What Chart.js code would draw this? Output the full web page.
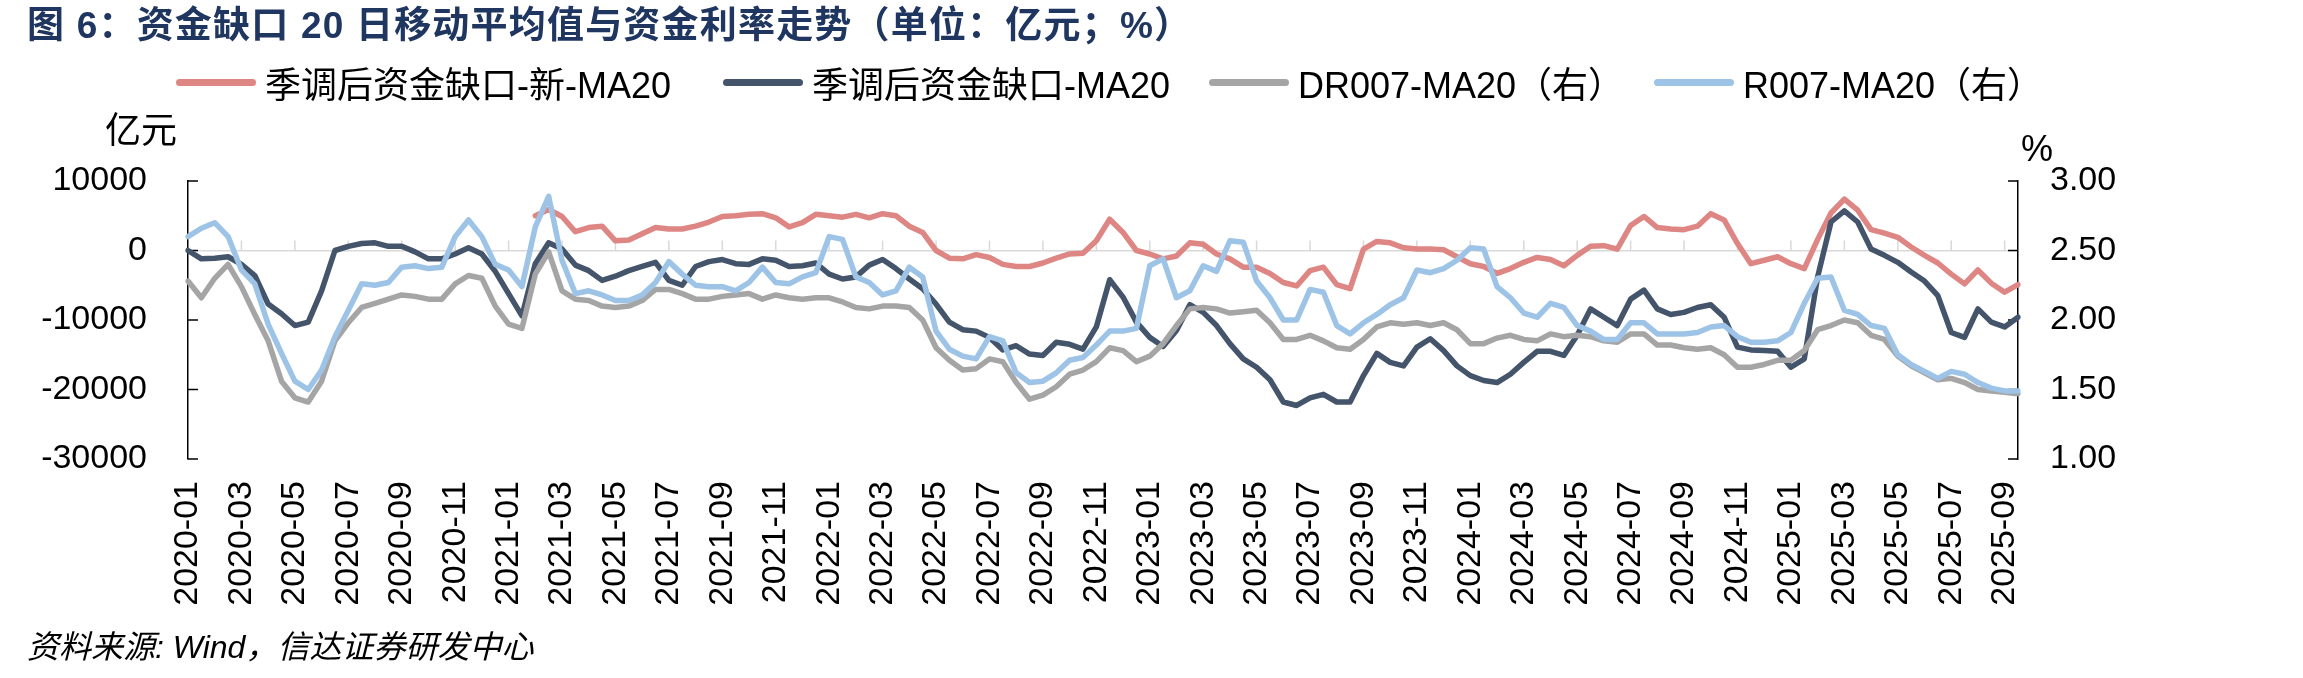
<!DOCTYPE html>
<html lang="zh-CN">
  <head>
    <meta charset="UTF-8" />
    <title>资金缺口20日移动平均值与资金利率走势</title>
    <script src="https://cdn.jsdelivr.net/npm/chart.js@4"></script>
    <style>
      * {
        margin: 0;
        padding: 0;
        box-sizing: border-box;
      }
      body {
        width: 2303px;
        height: 678px;
        position: relative;
        overflow: hidden;
        background: #ffffff;
        color: #000000;
        font-family: "Liberation Sans", Arial, "Noto Sans CJK SC", sans-serif;
      }
      #chart {
        position: absolute;
        left: 0;
        top: 0;
      }
      #title {
        position: absolute;
        left: 27px;
        top: 6px;
        font-size: 37px;
        line-height: 40px;
        font-weight: bold;
        letter-spacing: 1.2px;
        color: #1f3660;
        white-space: nowrap;
        font-family: "Liberation Sans", "Noto Sans CJK SC", sans-serif;
      }
      .legend-item {
        position: absolute;
        top: 62px;
        height: 40px;
        display: flex;
        align-items: center;
        font-size: 36px;
        white-space: nowrap;
        font-family: "Liberation Sans Narrow", "Liberation Sans", "Noto Sans CJK SC", sans-serif;
      }
      .swatch {
        display: inline-block;
        width: 80px;
        height: 7px;
        border-radius: 4px;
        margin-right: 9px;
      }
      .unit {
        position: absolute;
        font-size: 36px;
        line-height: 36px;
        font-family: "Liberation Sans", "Noto Sans CJK SC", sans-serif;
      }
      #source {
        position: absolute;
        left: 27px;
        top: 628px;
        font-size: 32px;
        line-height: 38px;
        font-style: italic;
        white-space: nowrap;
        font-family: "Liberation Sans Narrow", "Liberation Sans", "Noto Sans CJK SC", sans-serif;
      }
    </style>
  </head>
  <body>
    <canvas id="chart" width="2303" height="678"></canvas>

    <div id="title">图 6：资金缺口 20 日移动平均值与资金利率走势（单位：亿元；%）</div>
    <div id="legend"></div>
    <div class="unit" style="left: 105px; top: 113px">亿元</div>
    <div class="unit" style="left: 2021px; top: 131px">%</div>
    <div id="source">资料来源: Wind，信达证券研发中心</div>

    <script>
      // Half-month points, 2020-01 to 2025-09
      const dates = [];
      for (let yr = 2020; yr <= 2025; yr++) {
        for (let m = 1; m <= 12; m++) {
          if (yr === 2025 && m > 9) break;
          const mm = String(m).padStart(2, "0");
          dates.push(`${yr}-${mm}-01`, `${yr}-${mm}-16`);
        }
      }

      // 季调后资金缺口-新-MA20 (亿元), starts 2021-02
      const gapNew = [
        null, null, null, null, null, null, null, null, null, null,
        null, null, null, null, null, null, null, null, null, null,
        null, null, null, null, null, null, 5000, 5900, 4900, 2700,
        3300, 3500, 1400, 1500, 2400, 3300, 3100, 3100, 3500, 4100,
        4900, 5000, 5200, 5300, 4700, 3400, 4000, 5200, 5000, 4800,
        5200, 4700, 5300, 5000, 3500, 2600, 0, -1100, -1200, -600,
        -1000, -2000, -2300, -2300, -1800, -1100, -500, -400, 1400, 4500,
        2600, 0, -500, -1200, -800, 1100, 900, -500, -1200, -2400,
        -2400, -3300, -4600, -5100, -2900, -2400, -4900, -5500, 200, 1300,
        1100, 400, 200, 200, 100, -900, -1900, -2300, -3300, -2600,
        -1700, -1000, -1300, -2200, -700, 600, 700, 200, 3600, 4900,
        3300, 3100, 3000, 3500, 5300, 4400, 1000, -1900, -1400, -900,
        -1900, -2600, 1600, 5400, 7400, 5800, 3000, 2500, 1900, 500,
        -700, -1800, -3400, -4800, -2800, -4700, -6000, -4900,
      ];

      // 季调后资金缺口-MA20 (亿元)
      const gapOld = [
        0, -1200, -1100, -900, -2000, -3600, -7700, -9100, -10800, -10300,
        -5800, 0, 600, 1000, 1100, 600, 600, -200, -1200, -1200,
        -500, 400, -500, -3000, -6200, -9400, -1900, 1100, 200, -2100,
        -2900, -4300, -3700, -2900, -2300, -1700, -4300, -5000, -2300, -1600,
        -1300, -1900, -2000, -1200, -1400, -2300, -2200, -1800, -3400, -4100,
        -3800, -2100, -1300, -2600, -4100, -5500, -7700, -10300, -11400, -11600,
        -12500, -14300, -13700, -14900, -15100, -13200, -13500, -14200, -11000, -4200,
        -6700, -10300, -12500, -13800, -11500, -7800, -8900, -10800, -13400, -15600,
        -16800, -18600, -21800, -22300, -21200, -20700, -21800, -21800, -18000, -14800,
        -16100, -16600, -13900, -12700, -14400, -16600, -18000, -18700, -19000, -17800,
        -16100, -14500, -14500, -15100, -12200, -8400, -9600, -10800, -7000, -5700,
        -8400, -9200, -8900, -8200, -7800, -9600, -13900, -14300, -14400, -14500,
        -16800, -15600, -3800, 4100, 5700, 4100, 200, -700, -1700, -3100,
        -4400, -6500, -11800, -12500, -8400, -10300, -11000, -9600,
      ];

      // DR007-MA20 (%, right axis)
      const dr007 = [
        2.28, 2.16, 2.30, 2.40, 2.24, 2.04, 1.85, 1.56, 1.44, 1.41,
        1.56, 1.85, 1.98, 2.09, 2.12, 2.15, 2.18, 2.17, 2.15, 2.15,
        2.26, 2.32, 2.30, 2.10, 1.97, 1.94, 2.33, 2.49, 2.21, 2.15,
        2.14, 2.10, 2.09, 2.10, 2.14, 2.22, 2.22, 2.19, 2.15, 2.15,
        2.17, 2.18, 2.19, 2.15, 2.18, 2.16, 2.15, 2.16, 2.16, 2.13,
        2.09, 2.08, 2.10, 2.10, 2.09, 2.00, 1.80, 1.71, 1.64, 1.65,
        1.72, 1.70, 1.55, 1.43, 1.46, 1.52, 1.61, 1.64, 1.70, 1.80,
        1.78, 1.70, 1.74, 1.83, 1.96, 2.08, 2.09, 2.08, 2.05, 2.06,
        2.07, 1.98, 1.86, 1.86, 1.89, 1.85, 1.80, 1.79, 1.86, 1.95,
        1.98, 1.97, 1.98, 1.96, 1.98, 1.93, 1.83, 1.83, 1.87, 1.89,
        1.86, 1.85, 1.90, 1.88, 1.89, 1.88, 1.85, 1.84, 1.90, 1.90,
        1.82, 1.82, 1.80, 1.79, 1.80, 1.75, 1.66, 1.66, 1.68, 1.71,
        1.71, 1.78, 1.93, 1.96, 2.00, 1.98, 1.89, 1.86, 1.74, 1.67,
        1.62, 1.57, 1.58, 1.55, 1.50, 1.49, 1.48, 1.47,
      ];

      // R007-MA20 (%, right axis)
      const r007 = [
        2.60, 2.66, 2.70, 2.60, 2.36, 2.26, 1.97, 1.76, 1.56, 1.50,
        1.64, 1.88, 2.07, 2.26, 2.25, 2.27, 2.38, 2.39, 2.37, 2.38,
        2.60, 2.72, 2.60, 2.40, 2.36, 2.24, 2.67, 2.89, 2.43, 2.19,
        2.21, 2.18, 2.14, 2.14, 2.18, 2.27, 2.42, 2.33, 2.25, 2.24,
        2.24, 2.21, 2.27, 2.38, 2.27, 2.26, 2.31, 2.34, 2.60, 2.58,
        2.31, 2.27, 2.18, 2.21, 2.38, 2.31, 1.92, 1.79, 1.74, 1.72,
        1.88, 1.85, 1.62, 1.55, 1.56, 1.62, 1.71, 1.73, 1.82, 1.92,
        1.92, 1.94, 2.39, 2.44, 2.16, 2.21, 2.39, 2.35, 2.57, 2.56,
        2.28, 2.16, 2.00, 2.00, 2.22, 2.20, 1.96, 1.90, 1.98, 2.04,
        2.11, 2.16, 2.36, 2.34, 2.37, 2.43, 2.52, 2.51, 2.24, 2.16,
        2.05, 2.02, 2.12, 2.09, 1.96, 1.92, 1.86, 1.86, 1.98, 1.98,
        1.90, 1.90, 1.90, 1.91, 1.95, 1.96, 1.88, 1.84, 1.84, 1.85,
        1.91, 2.12, 2.30, 2.31, 2.07, 2.04, 1.96, 1.94, 1.75, 1.68,
        1.63, 1.58, 1.63, 1.61, 1.55, 1.51, 1.49, 1.49,
      ];

      const seriesNames = [
        "季调后资金缺口-新-MA20",
        "季调后资金缺口-MA20",
        "DR007-MA20（右）",
        "R007-MA20（右）",
      ];
      const seriesColors = ["#dd8683", "#44546a", "#a5a5a5", "#9dc3e6"];
      const leftTicks = [-30000, -20000, -10000, 0, 10000];
      const rightTicks = [1.0, 1.5, 2.0, 2.5, 3.0];

      const FONT = '"Liberation Sans", Arial, "Noto Sans CJK SC", sans-serif';

      const legendLeft = [176, 723, 1209, 1654];
      const legendBox = document.getElementById("legend");
      seriesNames.forEach((name, i) => {
        const item = document.createElement("div");
        item.className = "legend-item";
        item.style.left = legendLeft[i] + "px";
        const sw = document.createElement("span");
        sw.className = "swatch";
        sw.style.background = seriesColors[i];
        item.appendChild(sw);
        item.appendChild(document.createTextNode(name));
        legendBox.appendChild(item);
      });

      // Inward tick marks on both value axes + small month ticks on the zero line
      const axisMarks = {
        id: "axisMarks",
        beforeDatasetsDraw(chart) {
          const { ctx, chartArea, scales } = chart;
          const { x, y, y1 } = scales;
          ctx.save();
          ctx.lineWidth = 1.5;

          ctx.strokeStyle = "#d9d9d9";
          const y0 = y.getPixelForValue(0);
          dates.forEach((d, i) => {
            if (i === 0 || i % 4 !== 0) return;
            const px = x.getPixelForValue(i);
            ctx.beginPath();
            ctx.moveTo(px, y0);
            ctx.lineTo(px, y0 - 10);
            ctx.stroke();
          });

          ctx.strokeStyle = "#000000";
          leftTicks.forEach((v) => {
            const py = y.getPixelForValue(v);
            ctx.beginPath();
            ctx.moveTo(chartArea.left, py);
            ctx.lineTo(chartArea.left + 10, py);
            ctx.stroke();
          });
          rightTicks.forEach((v) => {
            const py = y1.getPixelForValue(v);
            ctx.beginPath();
            ctx.moveTo(chartArea.right, py);
            ctx.lineTo(chartArea.right - 10, py);
            ctx.stroke();
          });
          ctx.restore();
        },
      };

      const lineStyle = {
        borderWidth: 5.5,
        pointRadius: 0,
        tension: 0,
        borderJoinStyle: "round",
        borderCapStyle: "round",
        fill: false,
      };

      new Chart(document.getElementById("chart"), {
        type: "line",
        data: {
          labels: dates,
          datasets: [
            { label: seriesNames[0], data: gapNew, borderColor: seriesColors[0], yAxisID: "y", order: 3, ...lineStyle },
            { label: seriesNames[1], data: gapOld, borderColor: seriesColors[1], yAxisID: "y", order: 2, ...lineStyle },
            { label: seriesNames[2], data: dr007, borderColor: seriesColors[2], yAxisID: "y1", order: 1, ...lineStyle },
            { label: seriesNames[3], data: r007, borderColor: seriesColors[3], yAxisID: "y1", order: 0, ...lineStyle },
          ],
        },
        options: {
          responsive: false,
          animation: false,
          events: [],
          layout: { padding: { top: 181, left: 0, right: 0, bottom: 0 } },
          plugins: {
            legend: { display: false },
            tooltip: { enabled: false },
          },
          scales: {
            x: {
              type: "category",
              offset: false,
              grid: { display: false },
              border: { display: false },
              ticks: {
                autoSkip: false,
                minRotation: 90,
                maxRotation: 90,
                padding: 14,
                color: "#000000",
                font: { family: FONT, size: 34 },
                callback: (val, idx) => (idx % 4 === 0 ? dates[idx].slice(0, 7) : null),
              },
              afterFit: (s) => {
                s.height = 219;
              },
            },
            y: {
              position: "left",
              min: -30000,
              max: 10000,
              afterBuildTicks: (s) => {
                s.ticks = leftTicks.map((v) => ({ value: v }));
              },
              ticks: {
                padding: 41,
                color: "#000000",
                font: { family: FONT, size: 34 },
                callback: (v) => String(v),
              },
              grid: {
                drawTicks: false,
                lineWidth: 1.5,
                color: (c) => (c.tick && c.tick.value === 0 ? "#d9d9d9" : "rgba(0,0,0,0)"),
              },
              border: { display: true, color: "#000000", width: 1.5 },
              afterFit: (s) => {
                s.width = 188;
              },
            },
            y1: {
              position: "right",
              min: 1,
              max: 3,
              afterBuildTicks: (s) => {
                s.ticks = rightTicks.map((v) => ({ value: v }));
              },
              ticks: {
                padding: 32,
                color: "#000000",
                font: { family: FONT, size: 34 },
                callback: (v) => Number(v).toFixed(2),
              },
              grid: { drawOnChartArea: false, drawTicks: false },
              border: { display: true, color: "#000000", width: 1.5 },
              afterFit: (s) => {
                s.width = 285;
              },
            },
          },
        },
        plugins: [axisMarks],
      });
    </script>
  </body>
</html>
